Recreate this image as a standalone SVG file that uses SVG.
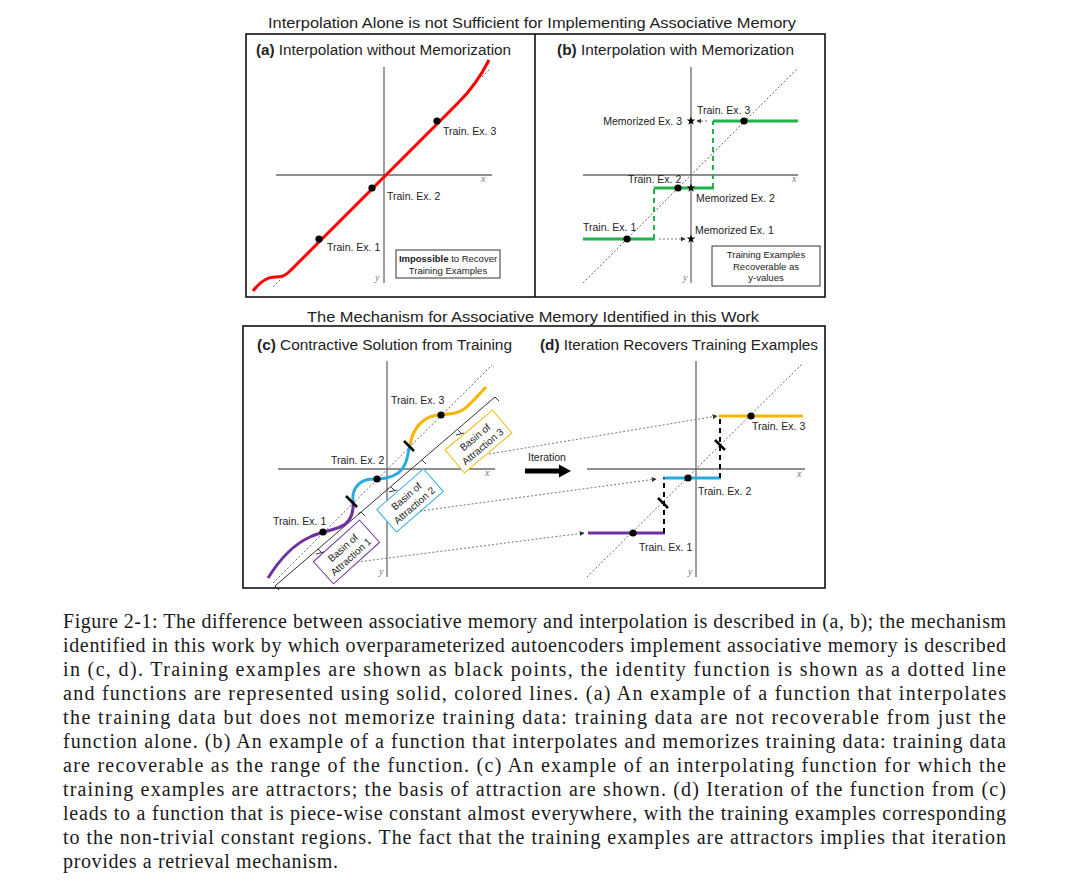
<svg xmlns="http://www.w3.org/2000/svg" width="1080" height="890" viewBox="0 0 1080 890">
<style>
.t{font-family:"Liberation Sans",Arial,sans-serif;fill:#222}
.lbl{font-size:10.5px}
.box{font-size:9.5px}
.ttl{font-size:15.5px}
.sub{font-size:14px}
.cap{font-family:"Liberation Serif","Times New Roman",serif;font-size:20px;fill:#1a1a1a}
.ax{stroke:#6a6a6a;stroke-width:1.3;fill:none}
.id{stroke:#555;stroke-width:0.9;stroke-dasharray:2 2;fill:none}
.frame{stroke:#111;stroke-width:1.6;fill:none}
.m{font-family:"Liberation Serif",serif;font-style:italic;font-size:10px;fill:#777}
.dot{fill:#000}
.conn{stroke:#666;stroke-width:0.9;stroke-dasharray:2 2;fill:none}
.tick{stroke:#000;stroke-width:2.5;fill:none}
.brk{stroke:#333;stroke-width:1;fill:none}
</style>
<defs>
<path id="star" d="M0,-4.5 L1.06,-1.46 L4.28,-1.39 L1.71,0.56 L2.65,3.64 L0,1.8 L-2.65,3.64 L-1.71,0.56 L-4.28,-1.39 L-1.06,-1.46 Z" fill="#000"/>
<marker id="ah" viewBox="0 0 8 8" refX="7" refY="4" markerWidth="5" markerHeight="5" orient="auto" markerUnits="userSpaceOnUse">
<path d="M0,0 L8,4 L0,8 Z" fill="#333"/>
</marker>
</defs>
<rect width="1080" height="890" fill="#fff"/>

<!-- Titles -->
<text class="t ttl" x="532" y="28" text-anchor="middle" textLength="528" lengthAdjust="spacingAndGlyphs">Interpolation Alone is not Sufficient for Implementing Associative Memory</text>
<text class="t ttl" x="533" y="322" text-anchor="middle" textLength="452" lengthAdjust="spacingAndGlyphs">The Mechanism for Associative Memory Identified in this Work</text>

<!-- Frames -->
<rect class="frame" x="246" y="34" width="579" height="263"/>
<line class="frame" x1="535" y1="34" x2="535" y2="297"/>
<rect class="frame" x="243" y="326" width="582" height="262"/>

<!-- Panel a -->
<g id="panel-a">
<text class="t sub" x="256" y="55" textLength="255" lengthAdjust="spacingAndGlyphs"><tspan font-weight="bold">(a)</tspan> Interpolation without Memorization</text>
<line class="ax" x1="384" y1="67" x2="384" y2="283"/>
<line class="ax" x1="276" y1="175" x2="492" y2="175"/>
<text class="m" x="481" y="182">x</text>
<text class="m" x="375" y="281">y</text>
<line class="id" x1="273" y1="287" x2="284" y2="276"/>
<line class="id" x1="482" y1="77" x2="490" y2="69"/>
<path d="M253,291 C259,283 266,277 275,277 C282,277 285,276 290,271 L458,103 C470,91 480,78 489,60" stroke="#ff0000" stroke-width="3" fill="none"/>
<circle class="dot" cx="319" cy="239" r="3.6"/>
<circle class="dot" cx="372" cy="188" r="3.6"/>
<circle class="dot" cx="437" cy="121" r="3.6"/>
<text class="t lbl" x="443" y="135">Train. Ex. 3</text>
<text class="t lbl" x="387" y="200">Train. Ex. 2</text>
<text class="t lbl" x="327" y="251">Train. Ex. 1</text>
<rect x="396" y="250" width="104" height="28" fill="#fff" stroke="#333" stroke-width="1"/>
<text class="t box" x="448" y="262" text-anchor="middle"><tspan font-weight="bold">Impossible</tspan> to Recover</text>
<text class="t box" x="448" y="274" text-anchor="middle">Training Examples</text>
</g>

<!-- Panel b -->
<g id="panel-b">
<text class="t sub" x="557" y="55" textLength="237" lengthAdjust="spacingAndGlyphs"><tspan font-weight="bold">(b)</tspan> Interpolation with Memorization</text>
<line class="ax" x1="691" y1="67" x2="691" y2="283"/>
<line class="ax" x1="583" y1="175" x2="798" y2="175"/>
<text class="m" x="792" y="182">x</text>
<text class="m" x="683" y="281">y</text>
<line class="id" x1="583" y1="283" x2="798" y2="68"/>
<g stroke="#21b24b" stroke-width="3" fill="none">
<line x1="583" y1="239" x2="655" y2="239"/>
<line x1="654" y1="188" x2="714" y2="188"/>
<line x1="713" y1="121" x2="798" y2="121"/>
</g>
<g stroke="#21b24b" stroke-width="2" stroke-dasharray="5 4" fill="none">
<line x1="654" y1="239" x2="654" y2="188"/>
<line x1="713" y1="188" x2="713" y2="121"/>
</g>
<circle class="dot" cx="627" cy="239" r="3.6"/>
<circle class="dot" cx="678" cy="188" r="3.6"/>
<circle class="dot" cx="744" cy="121" r="3.6"/>
<use href="#star" x="691" y="121"/>
<use href="#star" x="691" y="188"/>
<use href="#star" x="691" y="239"/>
<line class="conn" x1="707" y1="121" x2="697" y2="121" marker-end="url(#ah)"/>
<line class="conn" x1="659" y1="239" x2="685" y2="239" marker-end="url(#ah)"/>
<text class="t lbl" x="682" y="125" text-anchor="end">Memorized Ex. 3</text>
<text class="t lbl" x="697" y="114">Train. Ex. 3</text>
<text class="t lbl" x="628" y="183">Train. Ex. 2</text>
<text class="t lbl" x="696" y="202">Memorized Ex. 2</text>
<text class="t lbl" x="583" y="231">Train. Ex. 1</text>
<text class="t lbl" x="695" y="234">Memorized Ex. 1</text>
<rect x="712" y="246" width="108" height="40" fill="#fff" stroke="#333" stroke-width="1"/>
<text class="t box" x="766" y="258" text-anchor="middle">Training Examples</text>
<text class="t box" x="766" y="270" text-anchor="middle">Recoverable as</text>
<text class="t box" x="766" y="281" text-anchor="middle">y-values</text>
</g>

<!-- Panel c -->
<g id="panel-c">
<text class="t sub" x="257" y="350" textLength="255" lengthAdjust="spacingAndGlyphs"><tspan font-weight="bold">(c)</tspan> Contractive Solution from Training</text>
<line class="ax" x1="387" y1="361" x2="387" y2="577"/>
<line class="ax" x1="278" y1="469" x2="495" y2="469"/>
<text class="m" x="485" y="476">x</text>
<text class="m" x="379" y="575">y</text>
<line class="id" x1="273" y1="583" x2="492" y2="365"/>
<!-- bracket -->
<path class="brk" d="M275,586 L495,397"/>
<g class="brk">
<line x1="275" y1="586" x2="279" y2="590"/>
<line x1="361" y1="512" x2="365" y2="516"/>
<line x1="358" y1="514" x2="361" y2="512"/>
<line x1="422" y1="460" x2="426" y2="464"/>
<line x1="495" y1="397" x2="499" y2="401"/>
<line x1="318" y1="549" x2="322" y2="553"/>
<line x1="316" y1="554" x2="324" y2="552"/>
<line x1="391" y1="487" x2="395" y2="491"/>
<line x1="389" y1="492" x2="397" y2="490"/>
<line x1="458" y1="430" x2="462" y2="434"/>
<line x1="456" y1="435" x2="464" y2="433"/>
</g>
<path d="M268,578 C278,562 292,545 310,537 C318,533 330,531 340,527 C350,523 354,514 353,501" stroke="#7030a0" stroke-width="3" fill="none"/>
<path d="M353,501 C352,492 356,483 366,480 C372,478 378,480 386,478 C396,476 402,472 405,464 C408,458 408,452 410,445" stroke="#29abe2" stroke-width="3" fill="none"/>
<path d="M410,445 C412,434 418,422 430,417 C436,414 446,415 455,413 C465,411 472,402 486,387" stroke="#f8b500" stroke-width="3" fill="none"/>
<line class="tick" x1="346" y1="496" x2="357" y2="507"/>
<line class="tick" x1="404" y1="441" x2="414" y2="451"/>
<circle class="dot" cx="323" cy="532" r="3.6"/>
<circle class="dot" cx="377" cy="479" r="3.6"/>
<circle class="dot" cx="441" cy="415" r="3.6"/>
<text class="t lbl" x="391" y="404">Train. Ex. 3</text>
<text class="t lbl" x="331" y="464">Train. Ex. 2</text>
<text class="t lbl" x="273" y="525">Train. Ex. 1</text>
</g>

<g id="basin-1" transform="translate(346.5,552) rotate(-42)">
<rect x="-31" y="-15" width="62" height="30" fill="#fff" stroke="#7030a0" stroke-width="1"/>
<text class="t" font-size="10" x="0" y="-2" text-anchor="middle">Basin of</text>
<text class="t" font-size="10" x="0" y="10" text-anchor="middle">Attraction 1</text>
</g>
<g id="basin-2" transform="translate(410,500.5) rotate(-41)">
<rect x="-31" y="-15" width="62" height="30" fill="#fff" stroke="#29abe2" stroke-width="1"/>
<text class="t" font-size="10" x="0" y="-2" text-anchor="middle">Basin of</text>
<text class="t" font-size="10" x="0" y="10" text-anchor="middle">Attraction 2</text>
</g>
<g id="basin-3" transform="translate(478.5,441.5) rotate(-40)">
<rect x="-31" y="-15" width="62" height="30" fill="#fff" stroke="#f8b500" stroke-width="1"/>
<text class="t" font-size="10" x="0" y="-2" text-anchor="middle">Basin of</text>
<text class="t" font-size="10" x="0" y="10" text-anchor="middle">Attraction 3</text>
</g>

<!-- Connectors -->
<g id="connectors">
<line class="conn" x1="489" y1="454" x2="717" y2="416" marker-end="url(#ah)"/>
<line class="conn" x1="420" y1="511" x2="656" y2="479" marker-end="url(#ah)"/>
<line class="conn" x1="357" y1="562" x2="584" y2="533" marker-end="url(#ah)"/>
<text class="t lbl" x="547" y="461" text-anchor="middle">Iteration</text>
<path d="M525,468.5 L559,468.5 L559,464.5 L571,471 L559,477.5 L559,473.5 L525,473.5 Z" fill="#000"/>
</g>

<!-- Panel d -->
<g id="panel-d">
<text class="t sub" x="540" y="350" textLength="278" lengthAdjust="spacingAndGlyphs"><tspan font-weight="bold">(d)</tspan> Iteration Recovers Training Examples</text>
<line class="ax" x1="696" y1="361" x2="696" y2="577"/>
<line class="ax" x1="587" y1="469" x2="805" y2="469"/>
<text class="m" x="797" y="477">x</text>
<text class="m" x="688" y="575">y</text>
<line class="id" x1="587" y1="577" x2="803" y2="363"/>
<line x1="588" y1="533" x2="665" y2="533" stroke="#7030a0" stroke-width="3"/>
<line x1="663" y1="478" x2="721" y2="478" stroke="#29abe2" stroke-width="3"/>
<line x1="719" y1="416" x2="803" y2="416" stroke="#f8b500" stroke-width="3"/>
<g stroke="#000" stroke-width="2" stroke-dasharray="5 4" fill="none">
<line x1="664" y1="533" x2="664" y2="478"/>
<line x1="720" y1="478" x2="720" y2="416"/>
</g>
<line class="tick" x1="658" y1="498" x2="668" y2="508"/>
<line class="tick" x1="715" y1="440" x2="725" y2="450"/>
<circle class="dot" cx="633" cy="533" r="3.6"/>
<circle class="dot" cx="688" cy="478" r="3.6"/>
<circle class="dot" cx="751" cy="416" r="3.6"/>
<text class="t lbl" x="752" y="430">Train. Ex. 3</text>
<text class="t lbl" x="698" y="495">Train. Ex. 2</text>
<text class="t lbl" x="639" y="551">Train. Ex. 1</text>
</g>

<!-- Caption -->
<g id="caption" class="cap">
<text x="63" y="628" textLength="943" lengthAdjust="spacing">Figure 2-1: The difference between associative memory and interpolation is described in (a, b); the mechanism</text>
<text x="63" y="652" textLength="943" lengthAdjust="spacing">identified in this work by which overparameterized autoencoders implement associative memory is described</text>
<text x="63" y="676" textLength="943" lengthAdjust="spacing">in (c, d).  Training examples are shown as black points, the identity function is shown as a dotted line</text>
<text x="63" y="700" textLength="943" lengthAdjust="spacing">and functions are represented using solid, colored lines.  (a) An example of a function that interpolates</text>
<text x="63" y="724" textLength="943" lengthAdjust="spacing">the training data but does not memorize training data: training data are not recoverable from just the</text>
<text x="63" y="748" textLength="943" lengthAdjust="spacing">function alone. (b) An example of a function that interpolates and memorizes training data: training data</text>
<text x="63" y="772" textLength="943" lengthAdjust="spacing">are recoverable as the range of the function. (c) An example of an interpolating function for which the</text>
<text x="63" y="796" textLength="943" lengthAdjust="spacing">training examples are attractors; the basis of attraction are shown. (d) Iteration of the function from (c)</text>
<text x="63" y="820" textLength="943" lengthAdjust="spacing">leads to a function that is piece-wise constant almost everywhere, with the training examples corresponding</text>
<text x="63" y="844" textLength="943" lengthAdjust="spacing">to the non-trivial constant regions. The fact that the training examples are attractors implies that iteration</text>
<text x="63" y="868" textLength="275" lengthAdjust="spacing">provides a retrieval mechanism.</text>
</g>
</svg>
